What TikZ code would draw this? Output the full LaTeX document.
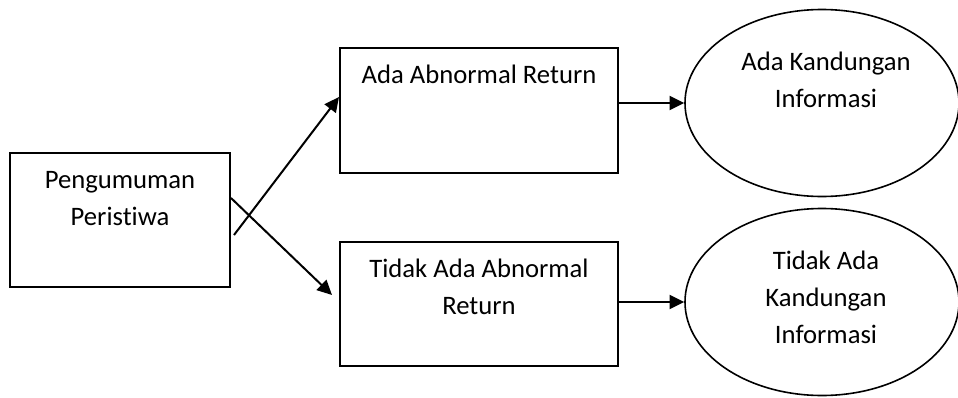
\documentclass[tikz,border=0pt]{standalone}
\usepackage{fontspec}
\setmainfont{Carlito}[Ligatures={NoCommon}]
\usetikzlibrary{arrows.meta,shapes.geometric,positioning}
\tikzset{
  box/.style={draw,line width=1.5pt,inner sep=0pt},
  oval/.style={draw,ellipse,line width=1.2pt,inner sep=0pt,minimum width=205.5pt,minimum height=140.25pt},
  txt/.style={align=center,inner sep=0pt,font=\fontsize{20}{27.75}\selectfont},
  arr/.style={-{Triangle[length=11pt,width=10.5pt]},line width=1.5pt}
}
\begin{document}
\begin{tikzpicture}[x=0.75pt,y=-0.75pt]
  \useasboundingbox (0,0) rectangle (958,397);
  % kotak
  \node[box,minimum width=165pt,minimum height=100.5pt] (ann) at (120,220) {};
  \node[box,minimum width=208.5pt,minimum height=93.75pt] (abn) at (479,110.5) {};
  \node[box,minimum width=208.5pt,minimum height=93pt] (noabn) at (479,304) {};
  % elips
  \node[oval] (info) at (822,103) {};
  \node[oval] (noinfo) at (822,302) {};
  % teks
  \node[txt,below=14.1pt of ann.north] (ann-t) {Pengumuman\\Peristiwa};
  \node[txt,below=13.4pt of abn.north] (abn-t) {Ada Abnormal Return};
  \node[txt,below=13.4pt of noabn.north] (noabn-t) {Tidak Ada Abnormal\\Return};
  \node[txt,below=32.1pt of info.north,xshift=3pt] (info-t) {Ada Kandungan\\Informasi};
  \node[txt,below=32.1pt of noinfo.north,xshift=3pt] (noinfo-t) {Tidak Ada\\Kandungan\\Informasi};
  % panah
  \draw[arr] ([shift={(3,15)}]ann.east) -- ([shift={(0,-13.5)}]abn.west);
  \draw[arr] ([shift={(0,-22)}]ann.east) -- ([shift={(-7,-9)}]noabn.west);
  \draw[arr] (info.west -| abn.east) -- (info.west);
  \draw[arr] (noinfo.west -| noabn.east) -- (noinfo.west);
\end{tikzpicture}
\end{document}
